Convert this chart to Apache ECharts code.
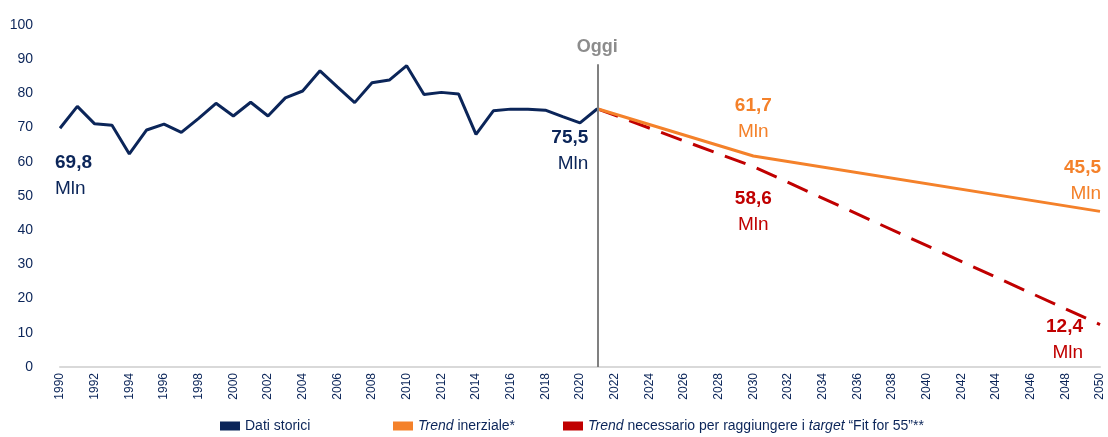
<!DOCTYPE html>
<html lang="it">
  <head>
    <meta charset="UTF-8" />
    <title>Emissioni</title>
    <script src="https://cdn.jsdelivr.net/npm/echarts@6/dist/echarts.min.js"></script>
  </head>
  <body style="margin: 0">
    <div id="container" style="height: 437px; width: 1108px;"></div>
    <script>
      // anni 1990-2050
      const years = [];
      for (let y = 1990; y <= 2050; y++) years.push(String(y));

      // dati storici 1990-2021
      const storici = [
        69.8, 76.2, 71.1, 70.7, 62.3, 69.3, 71.0, 68.6, 72.7, 77.1,
        73.4, 77.4, 73.4, 78.7, 80.7, 86.6, 81.9, 77.3, 83.1, 83.9,
        88.1, 79.7, 80.3, 79.8, 68.0, 74.9, 75.4, 75.4, 75.1, 73.2,
        71.4, 75.5
      ];
      const inerzialeAnni = ["2021", "2030", "2050"];
      const inerzialeVal = [75.5, 61.7, 45.5];
      const fit55Anni = ["2021", "2030", "2050"];
      const fit55Val = [75.5, 58.6, 12.4];

      const NAVY = "#0b2559";
      const ORANGE = "#f4812a";
      const RED = "#c00000";
      const FONT = "'Liberation Sans Narrow', 'Arial Narrow', 'Liberation Sans', sans-serif";

      function annot(year, val, color, dx, dy, align) {
        const txt = val.toFixed(1).replace(".", ",");
        return {
          coord: [year, val],
          symbolSize: 0,
          label: {
            show: true,
            position: "inside",
            align: align,
            verticalAlign: "top",
            offset: [dx, dy],
            formatter: "{v|" + txt + "}\n{u|Mln}",
            rich: {
              v: { fontSize: 19, fontWeight: "bold", color: color, lineHeight: 26, fontFamily: FONT },
              u: { fontSize: 19, color: color, lineHeight: 26, fontFamily: FONT }
            }
          }
        };
      }

      const pairs = (a, b) => a.map((y, i) => [y, b[i]]);
      const legendText = { fontSize: 14, color: NAVY, fontFamily: FONT,
        rich: { i: { fontStyle: "italic", fontSize: 14, color: NAVY, fontFamily: FONT } } };

      let myChart = echarts.init(document.getElementById("container"));
      let option = {
        animation: false,
        textStyle: { fontFamily: FONT },
        grid: { left: 60, right: 8, top: 25, bottom: 70 },
        legend: [
          {
            left: 220, top: 419, itemWidth: 20, itemHeight: 9, icon: "rect", padding: 0,
            data: ["Dati storici"],
            textStyle: legendText
          },
          {
            left: 393, top: 419, itemWidth: 20, itemHeight: 9, icon: "rect", padding: 0,
            data: ["Trend inerziale*"],
            formatter: () => "{i|Trend} inerziale*",
            textStyle: legendText
          },
          {
            left: 563, top: 419, itemWidth: 20, itemHeight: 9, icon: "rect", padding: 0,
            data: ["Trend Fit for 55"],
            formatter: () => "{i|Trend} necessario per raggiungere i {i|target} \u201cFit for 55\u201d**",
            textStyle: legendText
          }
        ],
        xAxis: {
          type: "category",
          data: years,
          boundaryGap: false,
          axisLine: { lineStyle: { color: "#d9d9d9", width: 2 } },
          axisTick: { show: false },
          axisLabel: { rotate: 90, interval: 1, color: NAVY, fontSize: 12, margin: 6 }
        },
        yAxis: {
          type: "value",
          min: 0,
          max: 100,
          interval: 10,
          splitLine: { show: false },
          axisLine: { show: false },
          axisTick: { show: false },
          axisLabel: { color: NAVY, fontSize: 14, margin: 27, fontFamily: "'Liberation Sans', sans-serif" }
        },
        series: [
          {
            name: "Dati storici",
            type: "line",
            data: storici,
            symbol: "none",
            itemStyle: { color: NAVY },
            lineStyle: { color: NAVY, width: 3 },
            z: 3,
            markPoint: {
              data: [
                annot("1990", 69.8, NAVY, -5, 21, "left"),
                annot("2021", 75.5, NAVY, -9, 16, "right")
              ]
            },
            markLine: {
              silent: true,
              symbol: "none",
              lineStyle: { color: "#808080", width: 2, type: "solid" },
              label: {
                show: true,
                position: "start",
                formatter: "Oggi",
                color: "#8c8c8c",
                fontWeight: "bold",
                fontSize: 18,
                distance: 8
              },
              data: [[{ coord: ["2021", 88.5] }, { coord: ["2021", 0] }]]
            }
          },
          {
            name: "Trend inerziale*",
            type: "line",
            data: pairs(inerzialeAnni, inerzialeVal),
            symbol: "none",
            itemStyle: { color: ORANGE },
            lineStyle: { color: ORANGE, width: 3 },
            z: 2,
            markPoint: {
              data: [
                annot("2030", 61.7, ORANGE, 0, -63, "center"),
                annot("2050", 45.5, ORANGE, 1, -57, "right")
              ]
            }
          },
          {
            name: "Trend Fit for 55",
            type: "line",
            data: pairs(fit55Anni, fit55Val),
            symbol: "none",
            itemStyle: { color: RED },
            lineStyle: { color: RED, width: 3, type: [22, 12] },
            z: 1,
            markPoint: {
              data: [
                annot("2030", 58.6, RED, 0, 19, "center"),
                annot("2050", 12.4, RED, -17, -11, "right")
              ]
            }
          }
        ]
      };
      myChart.setOption(option);
    </script>
  </body>
</html>
